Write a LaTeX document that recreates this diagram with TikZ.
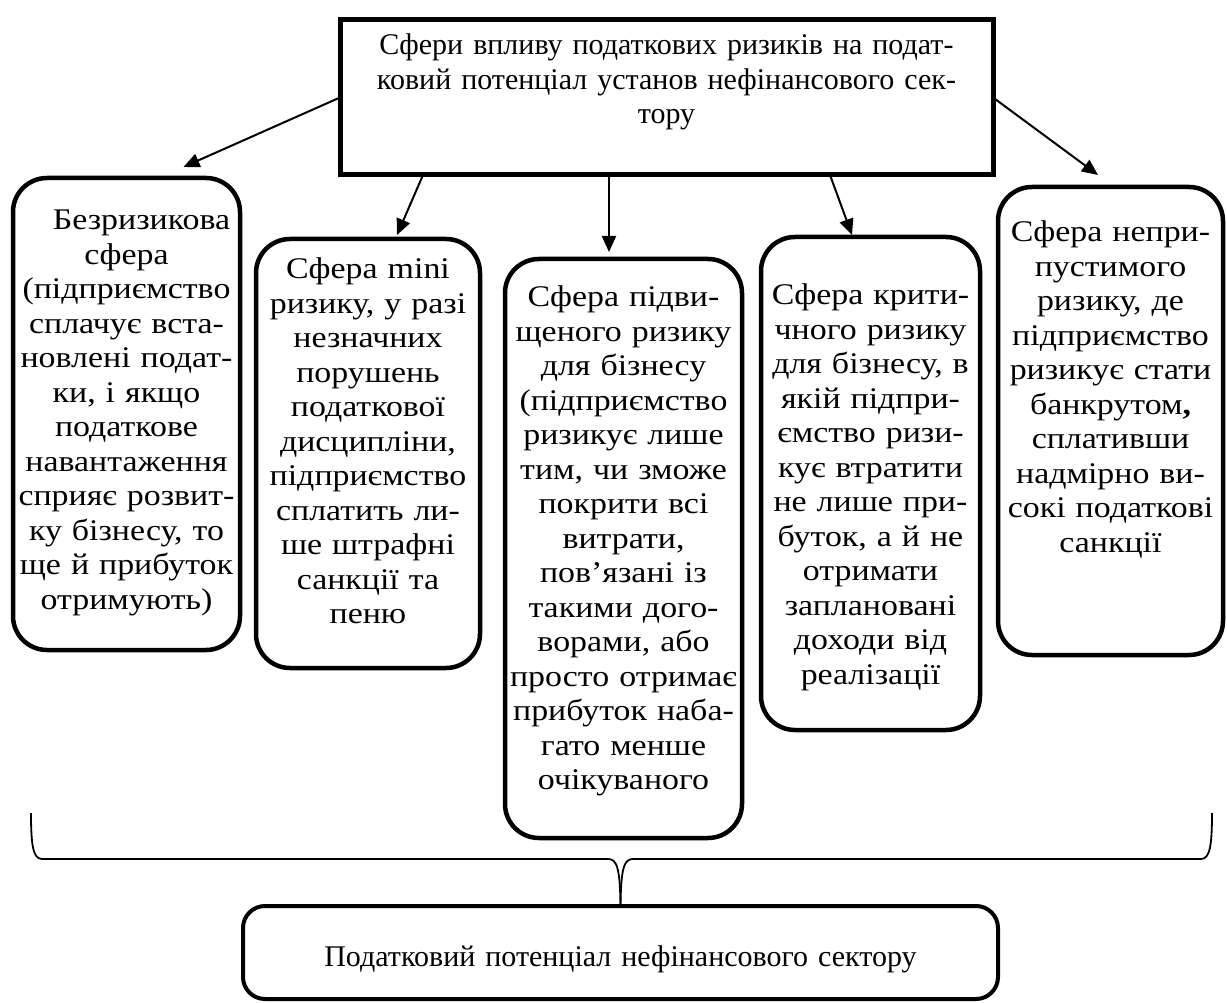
\documentclass[tikz,border=0pt]{standalone}
\usepackage{fontspec}
\setmainfont{Liberation Serif}
\newfontfamily\widefont[FakeStretch=1.13]{Liberation Serif}
\usetikzlibrary{arrows.meta}
\pgfdeclarelayer{edgelayer}
\pgfdeclarelayer{nodelayer}
\pgfsetlayers{edgelayer,nodelayer,main}
\tikzstyle{headbox}=[rectangle, draw=black, line width=5pt, inner sep=0pt, outer sep=0pt, align=center, anchor=north]
\tikzstyle{sphere}=[rectangle, rounded corners=34pt, draw=black, line width=4.5pt, inner xsep=-4pt, inner ysep=0pt, outer sep=0pt, align=center, anchor=north, font=\widefont\fontsize{30pt}{34.5pt}\selectfont]
\tikzstyle{totalbox}=[rectangle, rounded corners=22pt, draw=black, line width=4pt, inner xsep=2pt, inner ysep=0pt, outer sep=0pt, align=center, anchor=north]
\tikzstyle{arrow}=[-{Triangle[length=16pt,width=14pt]}, draw=black, line width=2pt]
\tikzstyle{brace}=[-, draw=black, line width=1.8pt]

\begin{document}
\begin{tikzpicture}[x=1pt, y=-1pt, font=\fontsize{30pt}{34.5pt}\selectfont]
            \useasboundingbox (0,0) rectangle (1227,1003);
            \begin{pgfonlayer}{nodelayer}
                \node [style=headbox, text width=653pt, text height=35pt, text depth=120pt] (spheres) at (666.5, 20) {Сфери впливу податкових ризиків на подат-\\ковий потенціал установ нефінансового сек-\\тору};

                \node [style=sphere, text width=235pt, text height=52pt, text depth=420pt] (risk1) at (126.5, 178) {\hspace*{30pt}Безризикова\\сфера\\(підприємство\\сплачує вста-\\новлені подат-\\ки, і якщо\\податкове\\навантаження\\сприяє розвит-\\ку бізнесу, то\\ще й прибуток\\отримують)};
                \node [style=sphere, text width=232pt, text height=40pt, text depth=389pt] (risk2) at (368, 239) {Сфера mini\\ризику, у разі\\незначних\\порушень\\податкової\\дисципліни,\\підприємство\\сплатить ли-\\ше штрафні\\санкції та\\пеню};
                \node [style=sphere, text width=245pt, text height=48pt, text depth=531pt] (risk3) at (623.5, 259) {Сфера підви-\\щеного ризику\\для бізнесу\\(підприємство\\ризикує лише\\тим, чи зможе\\покрити всі\\витрати,\\пов’язані із\\такими дого-\\ворами, або\\просто отримає\\прибуток наба-\\гато менше\\очікуваного};
                \node [style=sphere, text width=227pt, text height=68pt, text depth=425pt] (risk4) at (870.5, 237) {Сфера крити-\\чного ризику\\для бізнесу, в\\якій підпри-\\ємство ризи-\\кує втратити\\не лише при-\\буток, а й не\\отримати\\заплановані\\доходи від\\реалізації};
                \node [style=sphere, text width=233pt, text height=55pt, text depth=413pt] (risk5) at (1110.5, 187) {Сфера непри-\\пустимого\\ризику, де\\підприємство\\ризикує стати\\банкрутом\textbf{,}\\сплативши\\надмірно ви-\\сокі податкові\\санкції};

                \node [style=totalbox, text width=751pt, text height=60pt, text depth=33pt] (total) at (620.5, 906) {Податковий потенціал нефінансового сектору};
            \end{pgfonlayer}
            \begin{pgfonlayer}{edgelayer}
                \draw [style=arrow] (spheres.west) to ([xshift=57pt, yshift=11pt]risk1.north);
                \draw [style=arrow] ([xshift=83pt]spheres.south west) to ([xshift=29pt, yshift=4pt]risk2.north);
                \draw [style=arrow] ([xshift=-57.5pt]spheres.south) to ([xshift=-14.5pt, yshift=7pt]risk3.north);
                \draw [style=arrow] ([xshift=-163pt]spheres.south east) to ([xshift=-18.5pt, yshift=2pt]risk4.north);
                \draw [style=arrow] (spheres.east) to ([xshift=-12.5pt, yshift=12pt]risk5.north);

                \draw [style=brace] (31,813) .. controls (31,845) and (33,859) .. (42,859) -- (608,859) .. controls (617,859) and (620,868) .. (total.north);
                \draw [style=brace] (1212,813) .. controls (1212,845) and (1210,859) .. (1201,859) -- (633,859) .. controls (624,859) and (621,868) .. (total.north);
            \end{pgfonlayer}
        \end{tikzpicture}
\end{document}
